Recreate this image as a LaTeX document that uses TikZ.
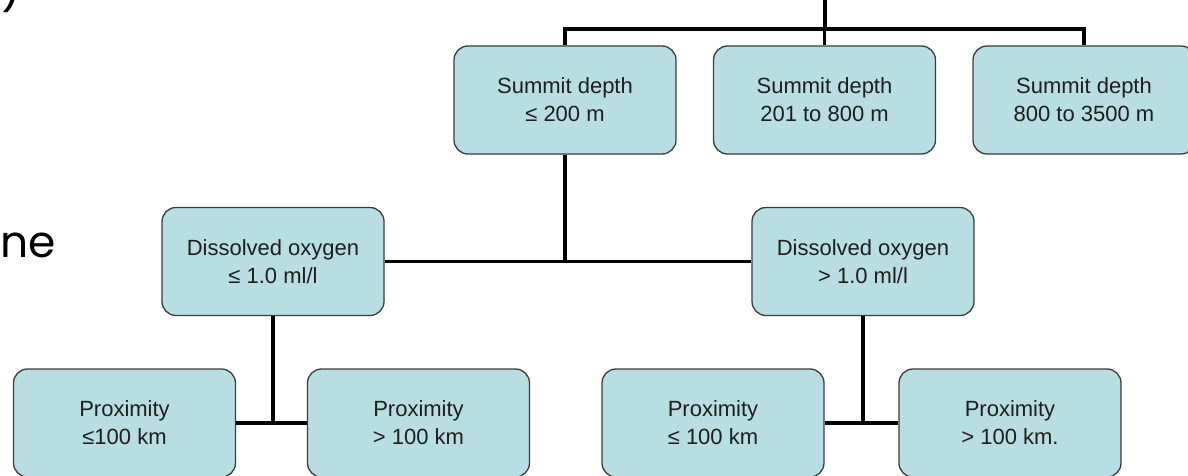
\documentclass[tikz,border=0pt]{standalone}
\usepackage{fontspec}
\setmainfont{Liberation Sans}
\newfontfamily\gothic{Poppins}
\definecolor{boxfill}{RGB}{184,222,228}
\definecolor{boxline}{RGB}{60,60,60}
\definecolor{txt}{RGB}{30,30,30}
\begin{document}
\begin{tikzpicture}[x=1pt,y=-1pt,
  box/.style={draw=boxline, line width=1.3pt, fill=boxfill, rounded corners=14pt,
    minimum width=222pt, minimum height=108pt, align=center, inner sep=0pt,
    text=txt, font=\fontsize{22}{28}\selectfont},
  conn/.style={line width=3.6pt, black},
  side/.style={inner sep=0pt, font=\gothic\fontsize{44}{50}\selectfont, text=black}]
\useasboundingbox (0,0) rectangle (1188,476);
\clip (0,0) rectangle (1188,476);
% left partial texts
\node[side, anchor=south] (paren) at (11,13) {)};
\node[side, anchor=base west] (ne) at (0,257) {ne};
% boxes
\node[box] (A) at (565,100) {Summit depth\\≤ 200 m};
\node[box] (B) at (824.5,100) {Summit depth\\201 to 800 m};
\node[box] (C) at (1084,100) {Summit depth\\800 to 3500 m};
\node[box] (D) at (273,261.5) {Dissolved oxygen\\≤ 1.0 ml/l};
\node[box] (E) at (863,261.5) {Dissolved oxygen\\> 1.0 ml/l};
\node[box] (F) at (124.5,423) {Proximity\\≤100 km};
\node[box] (G) at (418.5,423) {Proximity\\> 100 km};
\node[box] (H) at (713,423) {Proximity\\≤ 100 km};
\node[box] (I) at (1010,423) {Proximity\\> 100 km.};
% connectors
\coordinate (top) at (825,-5);
\coordinate (j0) at (825,29);
\draw[conn] (top) -- (j0);
\draw[conn] (A.north) |- (j0) -| (C.north);
\draw[conn] (j0) -| (B.north);
\draw[conn] (A.south) -- (A.south |- D.east);
\draw[conn] (D.east) -- (E.west);
\draw[conn] (D.south) -- (D.south |- F.east);
\draw[conn] (F.east) -- (G.west);
\draw[conn] (E.south) -- (E.south |- H.east);
\draw[conn] (H.east) -- (I.west);
\end{tikzpicture}
\end{document}
